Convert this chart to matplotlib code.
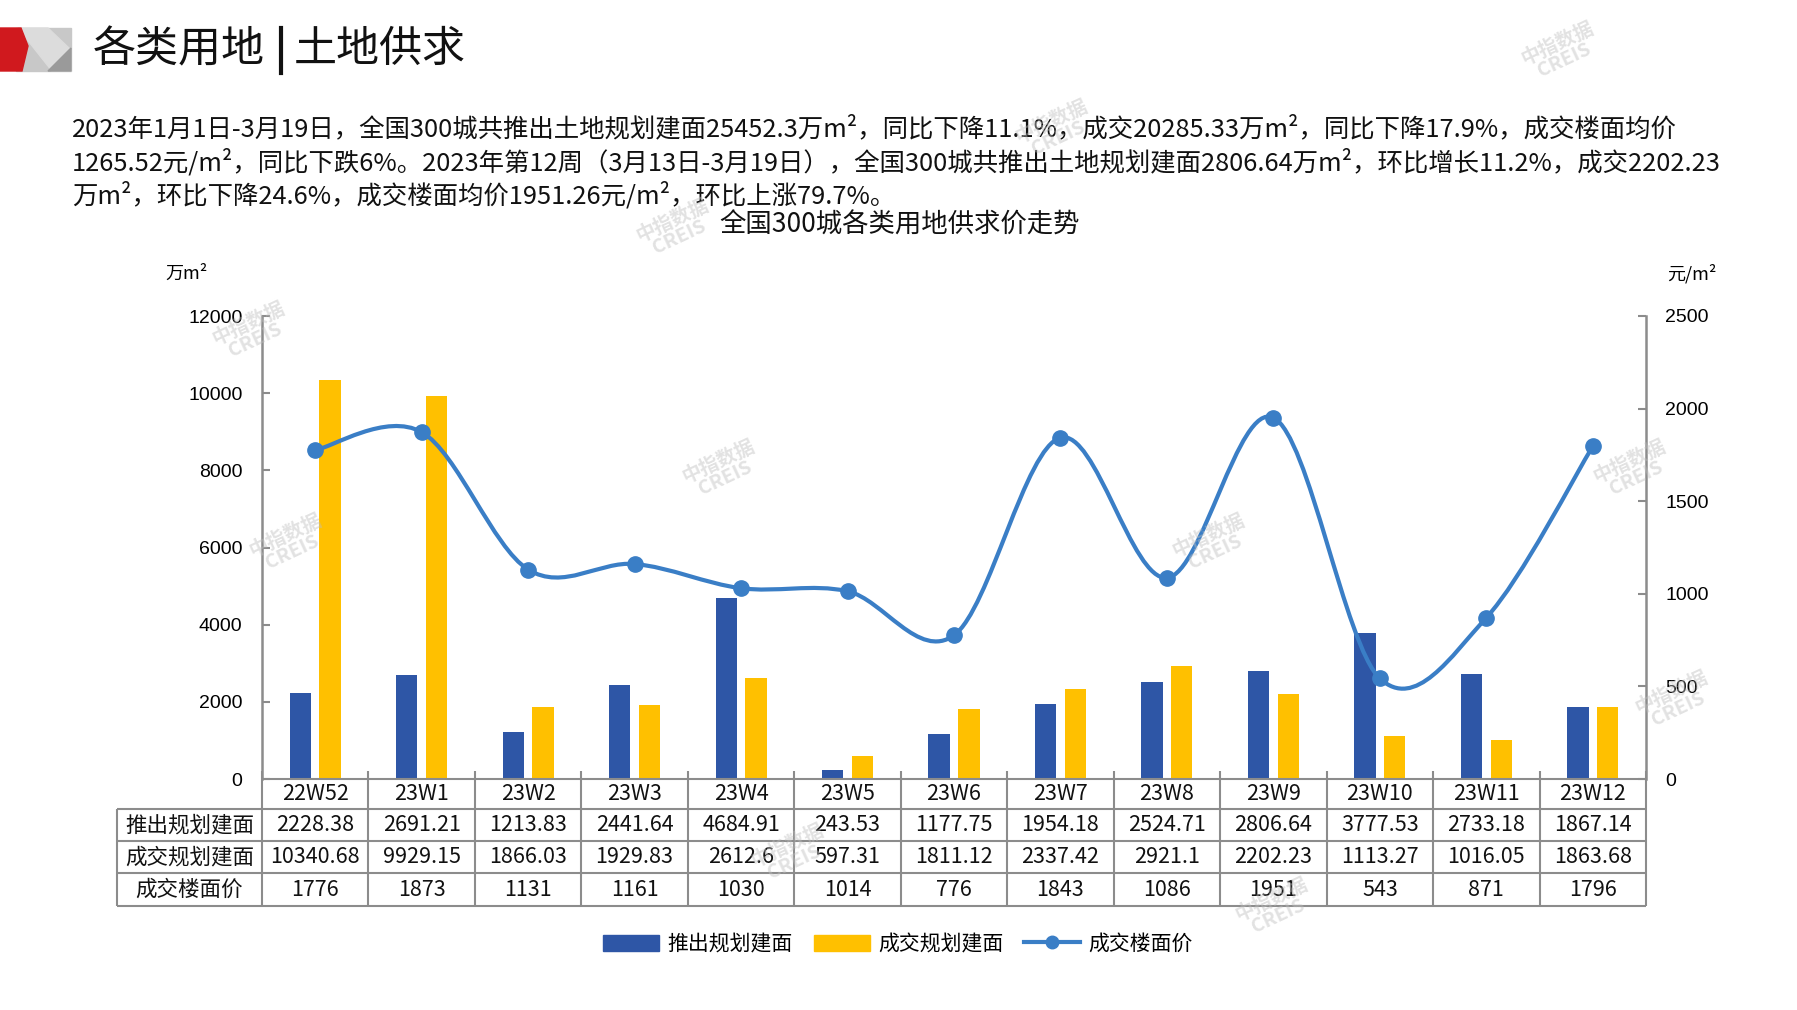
import numpy as np
import matplotlib
matplotlib.use("Agg")
import matplotlib.pyplot as plt
from matplotlib import transforms
from matplotlib.path import Path
from matplotlib.patches import PathPatch, Patch, Polygon
from matplotlib.lines import Line2D

plt.rcParams['font.family'] = ['Noto Sans CJK SC', 'DejaVu Sans']

# data
weeks = ['22W52', '23W1', '23W2', '23W3', '23W4', '23W5', '23W6',
         '23W7', '23W8', '23W9', '23W10', '23W11', '23W12']
supply = [2228.38, 2691.21, 1213.83, 2441.64, 4684.91, 243.53, 1177.75,
          1954.18, 2524.71, 2806.64, 3777.53, 2733.18, 1867.14]
deal = [10340.68, 9929.15, 1866.03, 1929.83, 2612.6, 597.31, 1811.12,
        2337.42, 2921.1, 2202.23, 1113.27, 1016.05, 1863.68]
price = [1776, 1873, 1131, 1161, 1030, 1014, 776, 1843, 1086, 1951, 543, 871, 1796]
series_names = ['推出规划建面', '成交规划建面', '成交楼面价']
left_ticks = [0, 2000, 4000, 6000, 8000, 10000, 12000]
right_ticks = [0, 500, 1000, 1500, 2000, 2500]

c_blue = '#2E56A6'
c_yellow = '#FFC000'
c_line = '#3A7EC6'
c_grid = '#8C8C8C'

W, H = 1797, 1010
fig = plt.figure(figsize=(W / 100, H / 100), dpi=100)

def fx(px):
    return px / W

def fy(py):
    return 1 - py / H

# header logo + title
logo_ax = fig.add_axes([0, 0, 1, 1], zorder=-5)
logo_ax.set_xlim(0, W)
logo_ax.set_ylim(H, 0)
logo_ax.axis('off')
logo_ax.add_patch(Polygon([(16, 28), (71, 28), (71, 71), (16, 71)], color='#C8C8C8'))
logo_ax.add_patch(Polygon([(18, 28), (48, 28), (71, 50), (71, 71), (52, 71)], color='#DCDCDC'))
logo_ax.add_patch(Polygon([(48, 71), (71, 48), (71, 71)], color='#9A9A9A'))
logo_ax.add_patch(Polygon([(0, 28), (21, 28), (28, 46), (22, 71), (0, 71)], color='#D0191E'))
logo_ax.plot([281, 281], [28, 73], color='#111111', lw=3)

fig.text(fx(93), fy(50), '各类用地', fontsize=31, va='center', ha='left', color='#111111')
fig.text(fx(294), fy(50), '土地供求', fontsize=31, va='center', ha='left', color='#111111')

para = ['2023年1月1日-3月19日，全国300城共推出土地规划建面25452.3万m²，同比下降11.1%，成交20285.33万m²，同比下降17.9%，成交楼面均价',
        '1265.52元/m²，同比下跌6%。2023年第12周（3月13日-3月19日），全国300城共推出土地规划建面2806.64万m²，环比增长11.2%，成交2202.23',
        '万m²，环比下降24.6%，成交楼面均价1951.26元/m²，环比上涨79.7%。']
for i, line in enumerate(para):
    fig.text(fx(72), fy(129 + 33.5 * i), line, fontsize=18.3, va='center', ha='left', color='#111111')

fig.text(fx(900), fy(225), '全国300城各类用地供求价走势', fontsize=19, ha='center', va='center', color='#111111')
fig.text(fx(186), fy(274), '万m²', fontsize=13, ha='center', va='center')
fig.text(fx(1692), fy(274), '元/m²', fontsize=13, ha='center', va='center')

# main axes
ax = fig.add_axes([fx(262), fy(779), fx(1646) - fx(262), fy(316) - fy(779)])
ax2 = ax.twinx()
x = np.arange(len(weeks))
bw = 0.2
ax.bar(x - 0.14, supply, bw, color=c_blue, zorder=2)
ax.bar(x + 0.14, deal, bw, color=c_yellow, zorder=2)
ax.set_xlim(-0.5, len(weeks) - 0.5)
ax.set_ylim(0, 12000)
ax.set_yticks(left_ticks)
ax.set_yticklabels([str(t) for t in left_ticks], family='Liberation Sans', fontsize=14)
ax2.set_ylim(0, 2500)
ax2.set_yticks(right_ticks)
ax2.set_yticklabels([str(t) for t in right_ticks], family='Liberation Sans', fontsize=14)
ax.set_xticks(np.arange(len(weeks) + 1) - 0.5)
ax.set_xticklabels([])
ax.tick_params(axis='x', direction='in', length=6, color=c_grid, width=1.5)
ax.tick_params(axis='y', direction='in', length=6, color=c_grid, width=1.5, pad=14)
ax2.tick_params(axis='y', direction='in', length=6, color=c_grid, width=1.5, pad=14)
for a in (ax, ax2):
    for s in ('top', 'bottom'):
        a.spines[s].set_visible(False)
    for s in ('left', 'right'):
        a.spines[s].set_color(c_grid)
        a.spines[s].set_linewidth(1.8)
ax2.spines['left'].set_visible(False)
ax.spines['right'].set_visible(False)

# smoothed price line (Bezier through the points, like Excel smoothing)
pts = np.column_stack([x, price]).astype(float)
n = len(pts)
verts = [tuple(pts[0])]
codes = [Path.MOVETO]
for i in range(n - 1):
    p0 = pts[max(i - 1, 0)]
    p1 = pts[i]
    p2 = pts[i + 1]
    p3 = pts[min(i + 2, n - 1)]
    verts += [tuple(p1 + (p2 - p0) / 6), tuple(p2 - (p3 - p1) / 6), tuple(p2)]
    codes += [Path.CURVE4] * 3
ax2.add_patch(PathPatch(Path(verts, codes), fill=False, edgecolor=c_line, lw=3, zorder=3))
ax2.plot(x, price, 'o', color=c_line, ms=11, zorder=4)

# data table under the axes: x in category units, y in axes fraction
cells = [[str(v) for v in supply], [str(v) for v in deal], [str(v) for v in price]]
trans = transforms.blended_transform_factory(ax.transData, ax.transAxes)
ax_h = 779 - 316
row_y = [0, -30 / ax_h, -62 / ax_h, -94 / ax_h, -127 / ax_h]
x0 = -0.5
x_lab = -0.5 - 145 / 106.46
x1 = len(weeks) - 0.5
tkw = dict(color=c_grid, lw=1.5, transform=trans, clip_on=False, solid_capstyle='butt')
ax.plot([x0, x1], [row_y[0]] * 2, **tkw)
for yy in row_y[1:]:
    ax.plot([x_lab, x1], [yy, yy], **tkw)
for xx in np.arange(len(weeks) + 1) - 0.5:
    ax.plot([xx, xx], [row_y[0], row_y[-1]], **tkw)
ax.plot([x_lab, x_lab], [row_y[1], row_y[-1]], **tkw)
for j, wk in enumerate(weeks):
    ax.text(j, (row_y[0] + row_y[1]) / 2, wk, transform=trans, ha='center', va='center',
            fontsize=15.5, color='#111111', clip_on=False)
for r, (name, row) in enumerate(zip(series_names, cells)):
    yc = (row_y[r + 1] + row_y[r + 2]) / 2
    ax.text((x_lab + x0) / 2, yc, name, transform=trans, ha='center', va='center',
            fontsize=15.5, color='#111111', clip_on=False)
    for j, v in enumerate(row):
        ax.text(j, yc, v, transform=trans, ha='center', va='center',
                fontsize=15.5, color='#111111', clip_on=False)

# legend
handles = [Patch(color=c_blue), Patch(color=c_yellow),
           Line2D([], [], color=c_line, lw=3, marker='o', ms=9)]
fig.legend(handles, series_names, loc='center', bbox_to_anchor=(fx(898), fy(944)),
           ncol=3, frameon=False, fontsize=15, handlelength=2.7, handleheight=0.8,
           columnspacing=1.0, handletextpad=0.4)

# watermarks
marks = [(1561, 52), (1055, 130), (676, 229), (252, 332), (722, 470), (289, 544),
         (1212, 544), (1633, 470), (1675, 701), (791, 854), (1275, 908)]
for mx, my in marks:
    fig.text(fx(mx), fy(my), '中指数据\nCREIS', fontsize=14, fontweight='bold',
             rotation=25, ha='center', va='center', color='#BFBFBF', alpha=0.45,
             multialignment='center', linespacing=0.9, zorder=10)

fig.savefig('out.png', dpi=100)
